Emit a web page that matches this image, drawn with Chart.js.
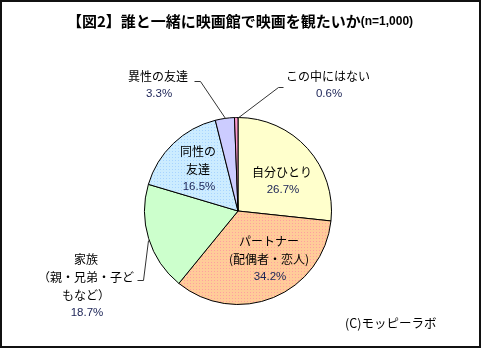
<!DOCTYPE html>
<html>
<head>
<meta charset="utf-8">
<script src="https://cdn.jsdelivr.net/npm/chart.js@4"></script>
<style>
  html, body { margin: 0; padding: 0; background: #fff; }
  #wrap { width: 484px; height: 352px; position: relative; }
</style>
</head>
<body>
<div id="wrap"><canvas id="chart" width="484" height="352"></canvas></div>
<script>
// --- data ---
const categories = ['自分ひとり', 'パートナー（配偶者・恋人）', '家族（親・兄弟・子どもなど）', '同性の友達', '異性の友達', 'この中にはない'];
const shares = [26.7, 34.2, 18.7, 16.5, 3.3, 0.6];
const sliceColors = ['#FFFFCC', '#FFCC99', '#CCFFCC', '#CCECFF', '#CCCCFF', '#FF99CC'];
const dotColors = [null, '#FF9F9F', null, '#A8D4FF', null, null];

const titleMain = '【図2】誰と一緒に映画館で映画を観たいか';
const titleN = '(n=1,000)';
const credit = '(C)モッピーラボ';

const JP = '"Noto Sans CJK JP", "Noto Sans", sans-serif';
const NUM = '"Liberation Sans", Arial, sans-serif';

// label blocks: lines of text, center position, optional leader line points
const labelBlocks = [
  { lines: ['自分ひとり'], x: 282, y: 172, idx: 0 },
  { lines: ['パートナー', '(配偶者・恋人)'], x: 269, y: 241, idx: 1 },
  { lines: ['家族', '（親・兄弟・子ど', 'もなど）'], x: 86, y: 259, idx: 2, leader: [[148, 240], [143, 280], [137, 280]] },
  { lines: ['同性の', '友達'], x: 198, y: 151, idx: 3 },
  { lines: ['異性の友達'], x: 158, y: 76, idx: 4, leader: [[225, 118], [200, 81], [194, 81]] },
  { lines: ['この中にはない'], x: 328, y: 76, idx: 5, leader: [[237, 118], [278, 87], [283, 87]] }
];

// small dithered fill like the original office chart
function dotted(base, dot) {
  if (!dot) return base;
  const c = document.createElement('canvas');
  c.width = 3; c.height = 3;
  const g = c.getContext('2d');
  g.fillStyle = base; g.fillRect(0, 0, 3, 3);
  g.fillStyle = dot; g.fillRect(1, 1, 1, 1);
  return g.createPattern(c, 'repeat');
}

const decorPlugin = {
  id: 'decor',
  afterDraw(chart) {
    const ctx = chart.ctx;
    ctx.save();

    // frame
    ctx.strokeStyle = '#111';
    ctx.lineWidth = 2;
    ctx.strokeRect(1, 1, 479, 346);

    // title
    ctx.textBaseline = 'middle';
    ctx.fillStyle = '#000';
    ctx.font = 'bold 15px ' + JP;
    const w1 = ctx.measureText(titleMain).width;
    ctx.font = 'bold 12px ' + NUM;
    const w2 = ctx.measureText(titleN).width;
    let tx = 240 - (w1 + w2) / 2;
    ctx.textAlign = 'left';
    ctx.font = 'bold 15px ' + JP;
    ctx.fillText(titleMain, tx, 21);
    ctx.font = 'bold 12px ' + NUM;
    ctx.fillText(titleN, tx + w1, 22);

    // leader lines
    ctx.strokeStyle = '#333';
    ctx.lineWidth = 1;
    labelBlocks.forEach(b => {
      if (!b.leader) return;
      ctx.beginPath();
      b.leader.forEach((p, i) => i ? ctx.lineTo(p[0] + 0.5, p[1] + 0.5) : ctx.moveTo(p[0] + 0.5, p[1] + 0.5));
      ctx.stroke();
    });

    // slice labels
    ctx.textAlign = 'center';
    labelBlocks.forEach(b => {
      ctx.fillStyle = '#000';
      ctx.font = '12px ' + JP;
      b.lines.forEach((t, i) => ctx.fillText(t, b.x, b.y + i * 18));
      ctx.fillStyle = '#1a2255';
      ctx.font = '11.5px ' + NUM;
      ctx.fillText(shares[b.idx].toFixed(1) + '%', b.x + 1, b.y + b.lines.length * 18);
    });

    // credit
    ctx.fillStyle = '#000';
    ctx.textAlign = 'left';
    ctx.font = '12.5px ' + JP;
    ctx.fillText(credit, 345, 323);

    ctx.restore();
  }
};

new Chart(document.getElementById('chart'), {
  type: 'pie',
  data: {
    labels: categories,
    datasets: [{
      data: shares,
      backgroundColor: sliceColors.map((c, i) => dotted(c, dotColors[i])),
      borderColor: '#000',
      borderWidth: 1
    }]
  },
  options: {
    responsive: false,
    animation: false,
    events: [],
    layout: { padding: { left: 144, right: 152, top: 117, bottom: 47 } },
    plugins: {
      legend: { display: false },
      tooltip: { enabled: false },
      title: { display: false }
    }
  },
  plugins: [decorPlugin]
});
</script>
</body>
</html>
